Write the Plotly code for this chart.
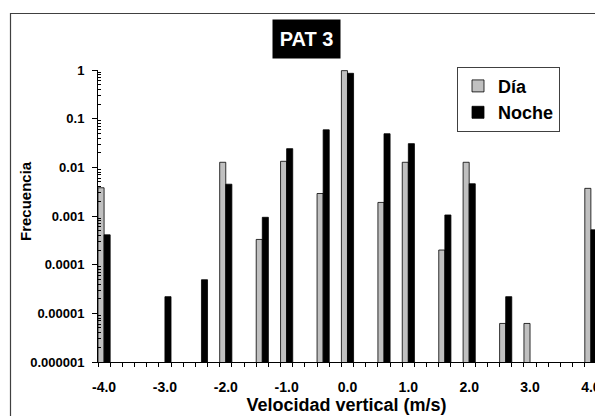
import numpy as np
import plotly.graph_objects as go

# ---- data ----
bins = [-4.0, -3.0, -2.4, -2.0, -1.4, -1.0, -0.4, 0.0, 0.6, 1.0, 1.6, 2.0, 2.6, 3.0, 4.0]
dia = [0.0038, None, None, 0.0127, 0.00033, 0.0133, 0.0029, 0.97, 0.0019, 0.0127,
       0.0002, 0.0127, 6.2e-6, 6.2e-6, 0.0037]
noche = [0.00041, 2.2e-5, 4.9e-5, 0.0045, 0.00094, 0.0242, 0.059, 0.855, 0.049, 0.0307,
         0.00105, 0.0046, 2.2e-5, None, 0.00052]
x_tick_vals = [-4.0, -3.0, -2.0, -1.0, 0.0, 1.0, 2.0, 3.0, 4.0]
x_tick_text = ["-4.0", "-3.0", "-2.0", "-1.0", "0.0", "1.0", "2.0", "3.0", "4.0"]
y_tick_vals = [1, 0.1, 0.01, 0.001, 0.0001, 0.00001, 0.000001]
y_tick_text = ["1", "0.1", "0.01", "0.001", "0.0001", "0.00001", "0.000001"]

FONT = "Arial, Liberation Sans, sans-serif"
W, H = 595, 416
L, R, T, B = 98, 0, 70, 54
PW, PH = W - L - R, H - T - B

def px(xp):
    return (xp - L) / PW

def py(yp):
    return 1 - (yp - T) / PH

bin_w = 0.2
minor_x = list(np.round(np.arange(-4.1, 4.2, bin_w), 2))
minor_y = [m * 10.0 ** e for e in range(-6, 0) for m in range(2, 10)]

fig = go.Figure()
fig.add_trace(go.Bar(x=bins, y=dia, name="Día", width=bin_w / 2, offset=-bin_w / 2,
                     marker=dict(color="#C0C0C0", line=dict(color="#000000", width=0.8)),
                     legendgroup="a"))
fig.add_trace(go.Bar(x=bins, y=noche, name="Noche", width=bin_w / 2, offset=0,
                     marker=dict(color="#000000", line=dict(color="#000000", width=0.8)),
                     legendgroup="b"))

fig.update_layout(
    width=W, height=H,
    margin=dict(l=L, r=R, t=T, b=B, autoexpand=False),
    paper_bgcolor="white", plot_bgcolor="white",
    font=dict(family=FONT, color="black", size=13, weight="bold"),
    barmode="overlay",
    showlegend=True,
    legend=dict(x=px(457), y=py(66.7), xanchor="left", yanchor="top",
                bgcolor="white", bordercolor="#404040", borderwidth=1,
                font=dict(family=FONT, size=18, weight="bold", color="black"),
                traceorder="grouped", tracegroupgap=0, itemwidth=30),
    xaxis=dict(
        range=[-4.1, -4.1 + PW / (12.17 / bin_w)],
        tickmode="array", tickvals=x_tick_vals, ticktext=x_tick_text,
        ticks="", showgrid=False, zeroline=False,
        showline=True, linecolor="black", linewidth=1,
        tickfont=dict(family=FONT, size=14, weight="bold"),
        ticklabelstandoff=12, ticklabeloverflow="allow",
        minor=dict(tickmode="array", tickvals=minor_x, ticks="outside",
                   ticklen=4, tickcolor="black", tickwidth=1, showgrid=False),
        title=dict(text="Velocidad vertical (m/s)", standoff=2,
                   font=dict(family=FONT, size=18, weight="bold")),
    ),
    yaxis=dict(
        type="log", range=[-6, 0],
        tickmode="array", tickvals=y_tick_vals, ticktext=y_tick_text,
        ticks="outside", ticklen=5, tickcolor="black", tickwidth=1,
        showgrid=False, zeroline=False,
        showline=True, linecolor="black", linewidth=1,
        tickfont=dict(family=FONT, size=13, weight="bold"),
        ticklabelstandoff=5,
        minor=dict(tickmode="array", tickvals=minor_y, ticks="inside",
                   ticklen=3, tickcolor="black", tickwidth=1, showgrid=False),
    ),
    shapes=[dict(type="rect", xref="paper", yref="paper",
                 x0=px(10.5), y0=py(430), x1=px(610), y1=py(13.5),
                 line=dict(color="#404040", width=1.2), fillcolor="rgba(0,0,0,0)",
                 layer="below")],
    annotations=[
        dict(text="PAT 3", xref="paper", yref="paper", x=px(306.7), y=py(39),
             xanchor="center", yanchor="middle", showarrow=False,
             bgcolor="black", borderpad=1, width=65, height=36,
             font=dict(family=FONT, size=20, color="white", weight="bold")),
        dict(text="Frecuencia", xref="paper", yref="paper", x=px(25), y=py(201),
             xanchor="center", yanchor="middle", showarrow=False, textangle=-90,
             font=dict(family=FONT, size=15, color="black", weight="bold")),
    ],
)

fig.write_html("out.html",
               config={"displayModeBar": False},
               post_script="document.body.style.margin='0';document.body.style.overflow='hidden';")
